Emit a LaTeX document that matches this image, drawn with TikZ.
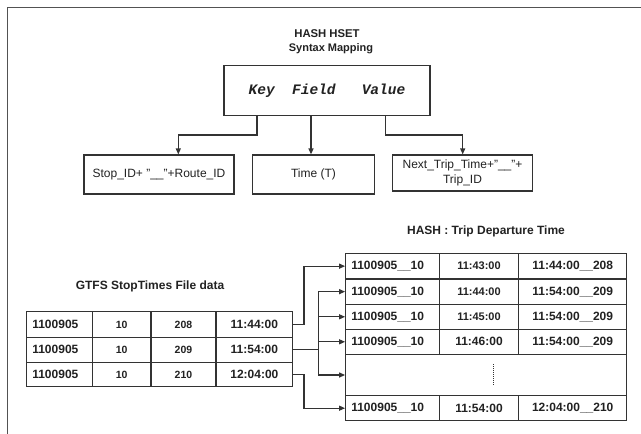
\documentclass[tikz,border=0pt]{standalone}
\usepackage{fontspec}
\setmainfont{Liberation Sans}
\newfontfamily\kfvfont{Liberation Mono}
\usetikzlibrary{arrows.meta,calc}
\definecolor{ink}{HTML}{222222}
\definecolor{linec}{HTML}{333333}
\newcommand{\mycell}[7]{%
  \pgfmathsetmacro{\cw}{#4-#2}%
  \pgfmathsetmacro{\ch}{#5-#3}%
  \pgfmathsetmacro{\tw}{#4-#2-11.2}%
  \node[box, cellt, minimum width=\cw pt, minimum height=\ch pt, #6] (#1) at ({(#2+#4)/2},{(#3+#5)/2}) {#7};}
\begin{document}
\begin{tikzpicture}[x=1pt,y=-1pt,
  line/.style={draw=linec, line width=1.2pt},
  box/.style={line, rectangle, inner sep=0pt},
  arr/.style={line, -{Triangle[length=6pt,width=5pt]}},
  lbl/.style={text=ink, inner sep=0pt, font=\fontsize{12}{15}\selectfont},
  blbl/.style={text=ink, inner sep=0pt, font=\bfseries\fontsize{12}{14}\selectfont},
  cellt/.style={text=ink, font=\bfseries\fontsize{12}{14}\selectfont},
  lft/.style={text width=\tw pt, inner xsep=5.6pt, align=left},
  sm/.style={font=\bfseries\fontsize{10.5}{12}\selectfont},
  md/.style={font=\bfseries\fontsize{11}{13}\selectfont},
]
\useasboundingbox (0,0) rectangle (641,434);
\fill[white] (0,0) rectangle (641,434);
% outer frame (only left and top edges visible)
\coordinate (fTL) at (7.3,7.3);
\coordinate (fTR) at (650,7.3);
\coordinate (fBL) at (7.3,445);
\draw[line, draw=linec!85] (fBL) -- (fTL) -- (fTR);

% titles
\node[blbl, font=\bfseries\fontsize{11.3}{13}\selectfont] (t1) at (327,34) {HASH HSET};
\node[blbl, font=\bfseries\fontsize{11}{13}\selectfont] (t2) at (331,49) {Syntax Mapping};

% key field value box
\node[box, minimum width=206pt, minimum height=50pt, text=ink,
      font=\kfvfont\bfseries\itshape\fontsize{14.5}{16}\selectfont] (kfv) at (327,90.5) {Key~~Field~~~Value};

% mapping boxes
\node[box, minimum width=150pt, minimum height=39pt, lbl] (b1) at (159,174.5) {Stop\_ID+ "\_\_"+Route\_ID};
\node[box, minimum width=121.6pt, minimum height=39pt, lbl] (b2) at (313.5,174.5) {Time (T)};
\node[box, minimum width=140.4pt, minimum height=36pt, lbl, align=center] (b3) at (462.5,173) {Next\_Trip\_Time+"\_\_"+\\Trip\_ID};

\coordinate (kx) at (257,0);
\coordinate (fx) at (311,0);
\coordinate (vx) at (385.5,0);
\coordinate (ka) at (178.3,135);
\coordinate (va) at (462.7,135);
\draw[arr] (kfv.south -| kx) |- (ka) -- (ka |- b1.north);
\draw[arr] (kfv.south -| fx) -- (fx |- b2.north);
\draw[arr] (kfv.south -| vx) |- (va) -- (va |- b3.north);

% lower titles
\node[blbl] (t3) at (486,231) {HASH : Trip Departure Time};
\node[blbl] (t4) at (150,286) {GTFS StopTimes File data};

% GTFS table
\mycell{L11}{26.7}{311.7}{92.3}{337.2}{lft}{1100905}
\mycell{L12}{92.3}{311.7}{151}{337.2}{sm}{10}
\mycell{L13}{151}{311.7}{216}{337.2}{sm}{208}
\mycell{L14}{216}{311.7}{292.7}{337.2}{}{11:44:00}
\mycell{L21}{26.7}{337.2}{92.3}{362.5}{lft}{1100905}
\mycell{L22}{92.3}{337.2}{151}{362.5}{sm}{10}
\mycell{L23}{151}{337.2}{216}{362.5}{sm}{209}
\mycell{L24}{216}{337.2}{292.7}{362.5}{}{11:54:00}
\mycell{L31}{26.7}{362.5}{92.3}{386.7}{lft}{1100905}
\mycell{L32}{92.3}{362.5}{151}{386.7}{sm}{10}
\mycell{L33}{151}{362.5}{216}{386.7}{sm}{210}
\mycell{L34}{216}{362.5}{292.7}{386.7}{}{12:04:00}

% HASH table
\mycell{R11}{345.7}{253.3}{439.3}{279}{lft}{1100905\_\_10}
\mycell{R12}{439.3}{253.3}{518.7}{279}{md}{11:43:00}
\mycell{R13}{518.7}{253.3}{626.7}{279}{}{11:44:00\_\_208}
\mycell{R21}{345.7}{279}{439.3}{304.3}{lft}{1100905\_\_10}
\mycell{R22}{439.3}{279}{518.7}{304.3}{md}{11:44:00}
\mycell{R23}{518.7}{279}{626.7}{304.3}{}{11:54:00\_\_209}
\mycell{R31}{345.7}{304.3}{439.3}{329.3}{lft}{1100905\_\_10}
\mycell{R32}{439.3}{304.3}{518.7}{329.3}{md}{11:45:00}
\mycell{R33}{518.7}{304.3}{626.7}{329.3}{}{11:54:00\_\_209}
\mycell{R41}{345.7}{329.3}{439.3}{354.3}{lft}{1100905\_\_10}
\mycell{R42}{439.3}{329.3}{518.7}{354.3}{}{11:46:00}
\mycell{R43}{518.7}{329.3}{626.7}{354.3}{}{11:54:00\_\_209}
\mycell{R5}{345.7}{354.3}{626.7}{395.7}{}{}
\mycell{R61}{345.7}{395.7}{439.3}{420.7}{lft}{1100905\_\_10}
\mycell{R62}{439.3}{395.7}{518.7}{420.7}{}{11:54:00}
\mycell{R63}{518.7}{395.7}{626.7}{420.7}{}{12:04:00\_\_210}
\draw[draw=linec, line width=1.4pt, dash pattern=on 1pt off 1pt]
  ([xshift=7pt,yshift=11pt]R5.center) -- ([xshift=7pt,yshift=-11pt]R5.center);

% connectors between tables
\coordinate (jx1) at (304,0);
\coordinate (jx2) at (318.3,0);
\draw[arr] (L14.east) -| (jx1 |- R11.west) -- (R11.west);
\draw[line] (L24.east) -- (L24.east -| jx2);
\draw[line] (jx2 |- R21.west) -- (jx2 |- R5.west);
\foreach \r in {R21,R31,R41,R5} \draw[arr] (jx2 |- \r.west) -- (\r.west);
\draw[arr] (L34.east) -| (jx1 |- R61.west) -- (R61.west);
\end{tikzpicture}
\end{document}
